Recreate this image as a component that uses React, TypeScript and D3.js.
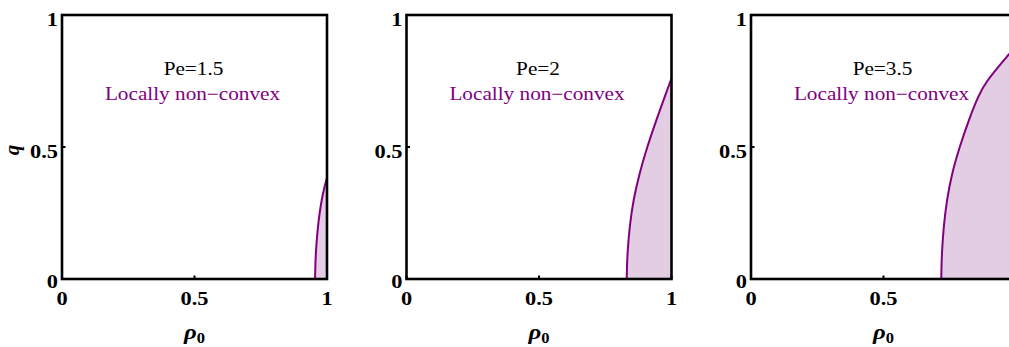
import React from "react";
import * as d3 from "d3";

const peLabels = ["Pe=1.5", "Pe=2", "Pe=3.5"];
const regionLabel = "Locally non\u2212convex";
const tickValues = [0, 0.5, 1];
const tickLabels = ["0", "0.5", "1"];

// boundary of the locally non-convex region: rho0 at given q
const q1 = [0, 0.05, 0.1, 0.15, 0.2, 0.25, 0.3, 0.35, 0.383];
const rho1 = [0.955, 0.9558, 0.958, 0.9615, 0.966, 0.972, 0.98, 0.9905, 1.0];
const q2 = [0, 0.05, 0.1, 0.2, 0.3, 0.4, 0.5, 0.6, 0.7, 0.76];
const rho2 = [0.831, 0.832, 0.834, 0.842, 0.856, 0.879, 0.908, 0.942, 0.978, 1.0];
const q3 = [0, 0.05, 0.1, 0.2, 0.3, 0.4, 0.5, 0.6, 0.7, 0.75, 0.8, 0.855, 0.883];
const rho3 = [0.718, 0.7188, 0.7205, 0.727, 0.739, 0.758, 0.787, 0.821, 0.86, 0.89, 0.93, 0.977, 1.0];

const series = [
  { rho: rho1, q: q1 },
  { rho: rho2, q: q2 },
  { rho: rho3, q: q3 },
];

const panelLefts = [62, 406.5, 751];
const PW = 265;
const TOP = 15;
const PH = 264;
const SX = 1.18;

const PURPLE = "#800080";
const FILL = "rgb(226,205,226)";
const FONT = "Liberation Serif, Times New Roman, serif";

function SText({ x, y, anchor = "middle", size, weight = "normal", fill = "#000", style = "normal", children }: any) {
  if (x > 1004) return null;
  return (
    <g transform={`translate(${x},${y}) scale(${SX},1)`}>
      <text x={0} y={0} textAnchor={anchor} fontSize={size} fontWeight={weight} fontStyle={style} fill={fill} fontFamily={FONT}>
        {children}
      </text>
    </g>
  );
}

function Panel({ idx }: { idx: number }) {
  const left = panelLefts[idx];
  const x = d3.scaleLinear().domain([0, 1]).range([left, left + PW]);
  const y = d3.scaleLinear().domain([0, 1]).range([TOP + PH, TOP]);
  const s = series[idx];
  const pts = s.rho.map((r, i) => ({ r, q: s.q[i] }));
  const line = d3
    .line<any>()
    .x((d) => x(d.r))
    .y((d) => y(d.q))
    .curve(d3.curveBasis);
  const edge = line(pts) || "";
  const areaPath = `${edge}L${x(1)},${y(0)}Z`;
  const cx = x(0.5);
  return (
    <g>
      <path d={areaPath} fill={FILL} stroke="none" />
      <path d={edge} fill="none" stroke={PURPLE} strokeWidth={2} />
      <rect x={x(0)} y={y(1)} width={PW} height={PH} fill="none" stroke="#000" strokeWidth={2.6} />
      {tickValues.map((v) => (
        <g key={"t" + v}>
          <line x1={x(v)} x2={x(v)} y1={y(0)} y2={y(0) - 3.5} stroke="#000" strokeWidth={2} />
          <line x1={x(0)} x2={x(0) + 3.5} y1={y(v)} y2={y(v)} stroke="#000" strokeWidth={2} />
        </g>
      ))}
      {tickValues.map((v, i) => (
        <SText key={"yl" + v} x={x(0) - 4} y={y(v) + (v === 0 ? 9 : 11)} anchor="end" size={19} weight="bold">
          {tickLabels[i]}
        </SText>
      ))}
      {tickValues.map((v, i) => (
        <SText key={"xl" + v} x={x(v)} y={305} size={19} weight="bold">
          {tickLabels[i]}
        </SText>
      ))}
      <SText x={cx} y={339} size={21} weight="bold" style="italic">
        {"\u03C1"}
        <tspan fontSize={14} dy={4} fontStyle="normal">0</tspan>
      </SText>
      <SText x={cx - 1} y={75} size={18}>
        {peLabels[idx]}
      </SText>
      <SText x={cx - 2} y={100} size={18} fill={PURPLE}>
        {regionLabel}
      </SText>
      {idx === 0 && (
        <g transform={`translate(19,150) rotate(-90)`}>
          <text textAnchor="middle" fontSize={21} fontWeight="bold" fontStyle="italic" fontFamily={FONT}>
            q
          </text>
        </g>
      )}
    </g>
  );
}

export default function App() {
  return (
    <svg width={1009} height={347} style={{ position: "absolute", left: 0, top: 0, background: "#fff" }}>
      <rect x={0} y={0} width={1009} height={347} fill="#fff" />
      {[0, 1, 2].map((i) => (
        <Panel key={i} idx={i} />
      ))}
    </svg>
  );
}
